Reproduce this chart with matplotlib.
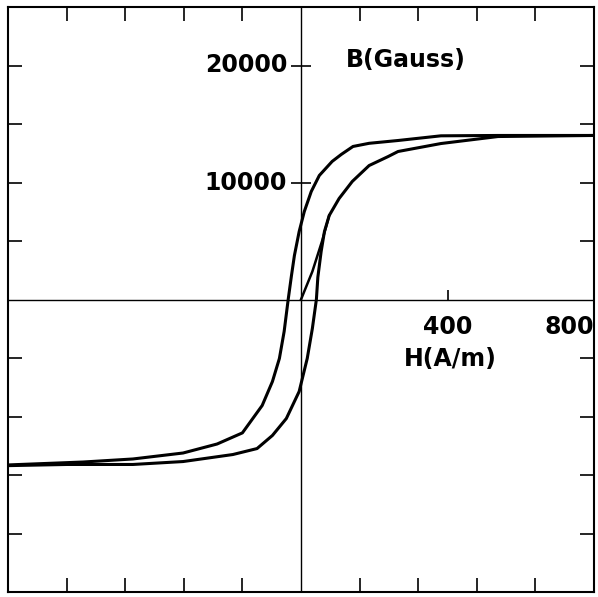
"""Hysteresis loop B(H) chart."""
import matplotlib
matplotlib.use("Agg")
import matplotlib.pyplot as plt

# descending branch (H from +800 down to -800)
upper_h = [800, 538, 382, 265, 186, 142, 110, 85, 50, 28, 9, -5, -18, -26,
           -35, -46, -59, -78, -106, -160, -229, -322, -459, -595, -800]
upper_b = [14020, 14020, 13990, 13590, 13350, 13080, 12400, 11800, 10600,
           9230, 7520, 5810, 3760, 2050, 0, -2730, -5040, -7010, -9060,
           -11400, -12350, -13120, -13630, -13890, -14140]

# ascending branch (H from -800 up to +800)
lower_h = [-800, -639, -459, -322, -186, -120, -78, -40, -5, 17, 31, 42, 46,
           55, 64, 77, 104, 140, 186, 238, 265, 382, 538, 800]
lower_b = [-14200, -14100, -14100, -13850, -13250, -12740, -11620, -10170,
           -7860, -5040, -2480, 0, 1900, 4100, 5810, 7180, 8630, 10090,
           11450, 12220, 12650, 13330, 13930, 14020]

# initial magnetisation curve from the origin
init_h = [0, 31, 58, 77]
init_b = [0, 2390, 5040, 7180]

frame_xticks = [-640, -480, -320, -160, 160, 320, 480, 640]
frame_yticks = [-20000, -15000, -10000, -5000, 5000, 10000, 15000, 20000]
b_labels = [10000, 20000]
h_labels = [400, 800]


def main():
    fig = plt.figure(figsize=(5.98, 5.97), dpi=100)
    ax = fig.add_axes([8 / 598, 5 / 597, 586 / 598, 585 / 597])
    ax.set_xlim(-800, 800)
    ax.set_ylim(-25000, 25000)

    for s in ax.spines.values():
        s.set_linewidth(1.5)
    ax.set_xticks(frame_xticks)
    ax.set_yticks(frame_yticks)
    ax.tick_params(direction="in", length=10, width=1.2, top=True, right=True,
                   labelbottom=False, labelleft=False)

    ax.axhline(0, color="black", lw=1.0)
    ax.axvline(0, color="black", lw=1.0)

    ax.plot(upper_h, upper_b, color="black", lw=2.2, solid_joinstyle="round")
    ax.plot(lower_h, lower_b, color="black", lw=2.2, solid_joinstyle="round")
    ax.plot(init_h, init_b, color="black", lw=1.8, solid_joinstyle="round")

    # ticks on the centre axes
    ax.plot([0] * len(b_labels), b_labels, ls="none", marker="_",
            markersize=14, markeredgewidth=1.2, color="black")
    ax.plot([h_labels[0]], [0], ls="none", marker=2, markersize=7,
            markeredgewidth=1.2, color="black")

    font = dict(family="DejaVu Sans", weight="bold", fontsize=17)
    for v in b_labels:
        ax.annotate(f"{v}", xy=(0, v), xytext=(-10, 0),
                    textcoords="offset points", ha="right", va="center", **font)
    ax.text(287, 20500, "B(Gauss)", ha="center", va="center", **font)
    ax.text(h_labels[0], -2350, f"{h_labels[0]}", ha="center", va="center", **font)
    ax.text(h_labels[1], -2350, f"{h_labels[1]}", ha="right", va="center", **font)
    ax.text(407, -5090, "H(A/m)", ha="center", va="center", **font)

    fig.savefig("out.png", dpi=100)


if __name__ == "__main__":
    main()
